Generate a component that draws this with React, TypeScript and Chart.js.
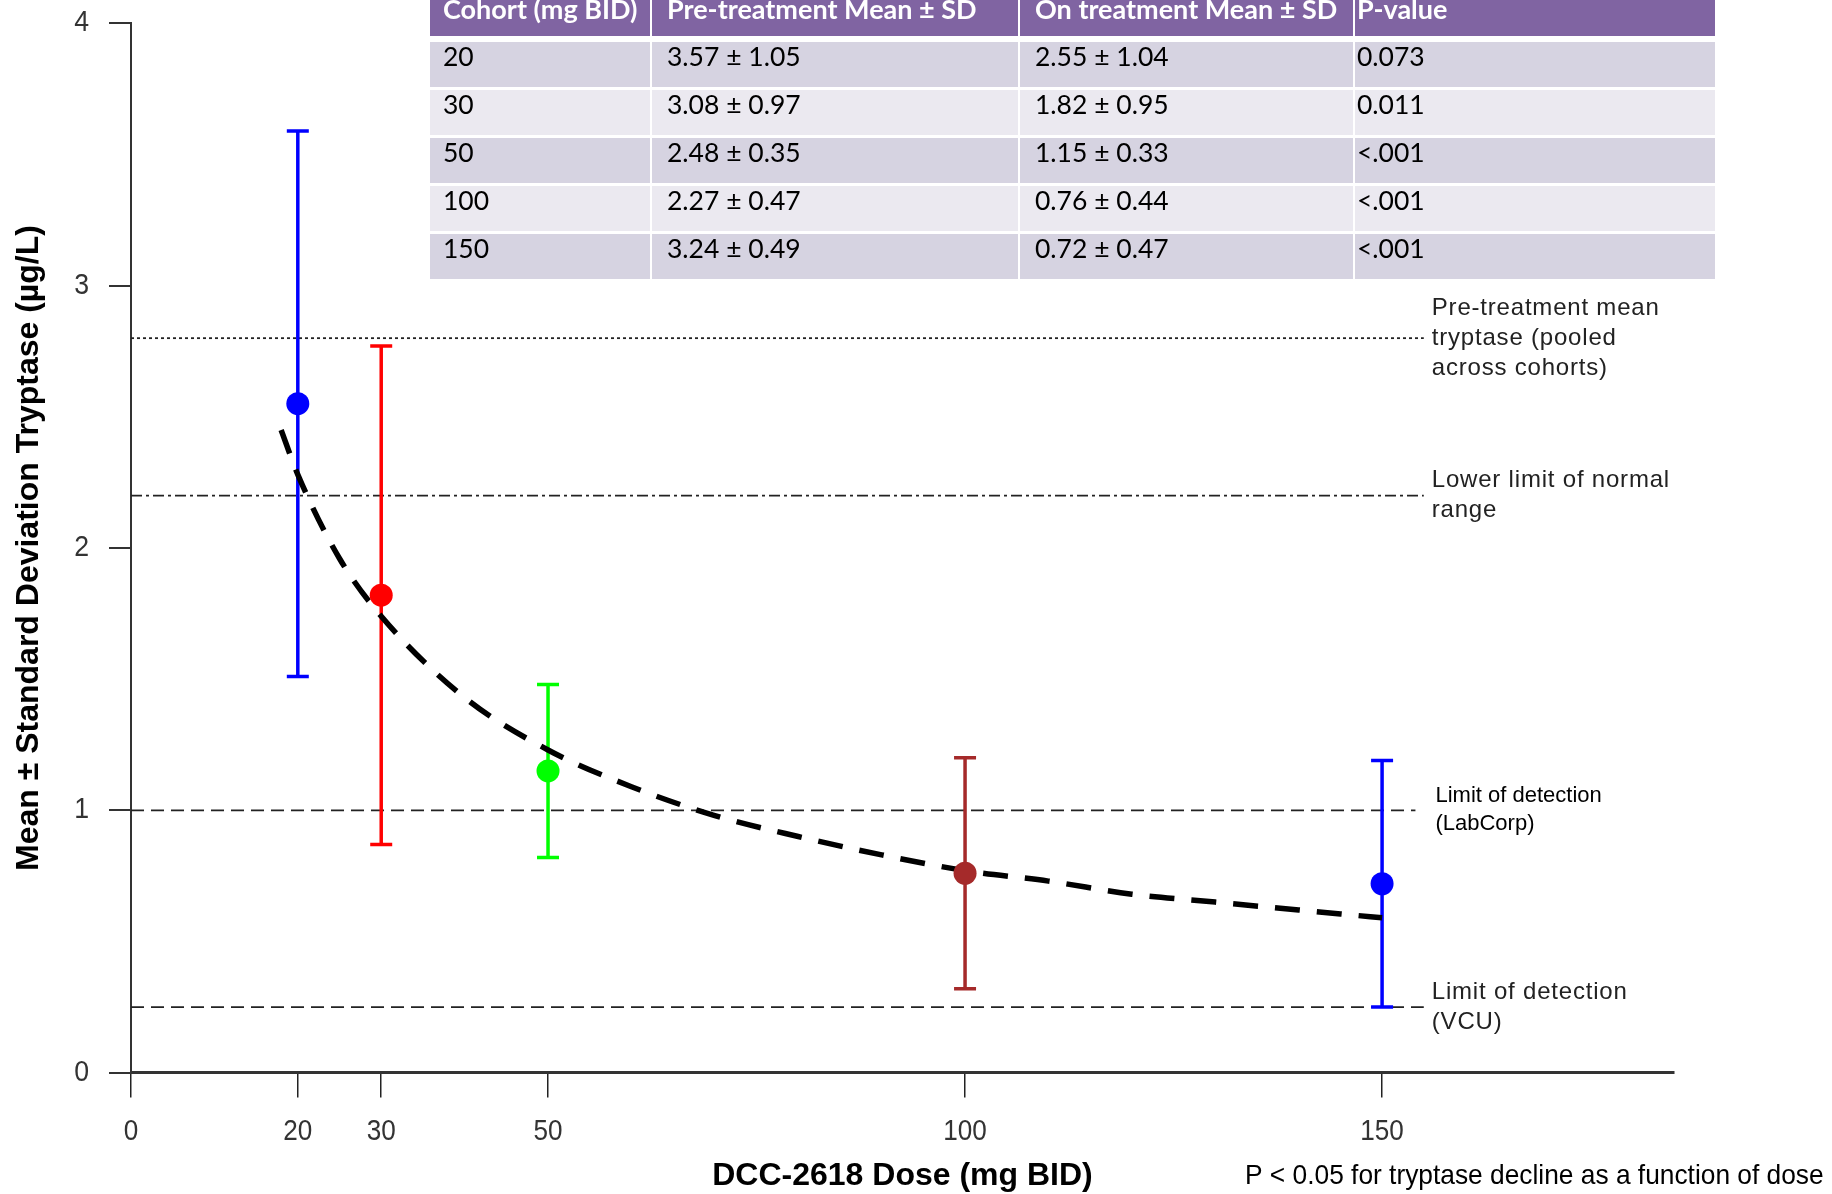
import React, { useEffect, useRef } from "react";
import { Chart, registerables } from "chart.js";

Chart.register(...registerables);

// ---------- data ----------
const cohorts = [20, 30, 50, 100, 150];
const preMean = [3.57, 3.08, 2.48, 2.27, 3.24];
const preSD = [1.05, 0.97, 0.35, 0.47, 0.49];
const onMean = [2.55, 1.82, 1.15, 0.76, 0.72];
const onSD = [1.04, 0.95, 0.33, 0.44, 0.47];
const pValues = ["0.073", "0.011", "<.001", "<.001", "<.001"];

// fitted dose-response curve
const fitDose = [18, 20, 25, 30, 40, 50, 60, 70, 80, 90, 100, 110, 120, 130, 140, 150];
const fitTryptase = [2.45, 2.28, 1.96, 1.74, 1.43, 1.23, 1.09, 0.98, 0.9, 0.83, 0.77, 0.73, 0.68, 0.65, 0.62, 0.59];

// reference lines
const refValues = [2.8, 2.2, 1.0, 0.25];
const refEnds = [155, 155, 154, 155];
const refLabels = [
  ["Pre-treatment mean", "tryptase (pooled", "across cohorts)"],
  ["Lower limit of normal", "range"],
  ["Limit of detection", "(LabCorp)"],
  ["Limit of detection", "(VCU)"],
];

const xTicks = [0, 20, 30, 50, 100, 150];
const yTicks = [0, 1, 2, 3, 4];

const tableHeaders = ["Cohort (mg BID)", "Pre-treatment Mean \u00b1 SD", "On treatment Mean \u00b1 SD", "P-value"];

const xTitle = "DCC-2618 Dose (mg BID)";
const yTitle = "Mean \u00b1 Standard Deviation Tryptase (\u00b5g/L)";
const noteText = "P < 0.05 for tryptase decline as a function of dose";

// ---------- styles ----------
const pointColors = ["#0000ff", "#ff0000", "#00ff00", "#a52a2a", "#0000ff"];
const refDashes = [[3, 3], [11, 4, 3, 4], [13, 7], [13, 7]];
const refLabelDx = [8, 8, 20, 8];
const FIT_INDEX = 1;

function drawText(
  ctx: CanvasRenderingContext2D,
  s: string,
  x: number,
  y: number,
  font: string,
  color: string,
  align: CanvasTextAlign,
  sx = 1,
  ls = "0px"
) {
  ctx.save();
  ctx.font = font;
  ctx.fillStyle = color;
  ctx.textAlign = align;
  ctx.textBaseline = "middle";
  (ctx as any).letterSpacing = ls;
  ctx.translate(x, y);
  ctx.scale(sx, 1);
  ctx.fillText(s, 0, 0);
  ctx.restore();
}

const overlayPlugin = {
  id: "overlay",
  beforeDatasetDraw(chart: any, args: any) {
    if (args.index !== FIT_INDEX) return;
    const { ctx } = chart;
    const x = chart.scales.x;
    const y = chart.scales.y;
    ctx.save();
    ctx.lineWidth = 3.5;
    ctx.lineCap = "butt";
    cohorts.forEach((d, i) => {
      const px = x.getPixelForValue(d);
      const top = y.getPixelForValue(onMean[i] + onSD[i]);
      const bot = y.getPixelForValue(onMean[i] - onSD[i]);
      ctx.strokeStyle = pointColors[i];
      ctx.beginPath();
      ctx.moveTo(px, top);
      ctx.lineTo(px, bot);
      ctx.moveTo(px - 11, top);
      ctx.lineTo(px + 11, top);
      ctx.moveTo(px - 11, bot);
      ctx.lineTo(px + 11, bot);
      ctx.stroke();
    });
    ctx.restore();
  },
  afterDraw(chart: any) {
    const { ctx } = chart;
    const x = chart.scales.x;
    const y = chart.scales.y;
    const area = chart.chartArea;
    // y tick labels
    yTicks.forEach((v) => {
      drawText(ctx, String(v), 89, y.getPixelForValue(v), "29px 'Liberation Sans'", "#333", "right", 0.92);
    });
    // x tick labels
    xTicks.forEach((v) => {
      drawText(ctx, String(v), x.getPixelForValue(v), area.bottom + 59, "29px 'Liberation Sans'", "#333", "center", 0.9);
    });
    // axis titles
    drawText(ctx, xTitle, (area.left + area.right) / 2, area.bottom + 104, "bold 32px 'Liberation Sans'", "#000", "center");
    ctx.save();
    ctx.translate(29, (area.top + area.bottom) / 2);
    ctx.rotate(-Math.PI / 2);
    drawText(ctx, yTitle, 0, 0, "bold 32px 'Liberation Sans'", "#000", "center");
    ctx.restore();
    // reference line labels
    refLabels.forEach((lines, i) => {
      const lx = x.getPixelForValue(refEnds[i]) + refLabelDx[i];
      const yc = y.getPixelForValue(refValues[i]);
      const lh = i === 2 ? 28 : 30;
      lines.forEach((s, k) => {
        const ly = yc - ((lines.length - 1) * lh) / 2 + k * lh;
        if (i === 2) drawText(ctx, s, lx, ly, "22px 'Liberation Sans'", "#000", "left");
        else drawText(ctx, s, lx, ly, "24px 'Liberation Sans'", "#222", "left", 1, "0.8px");
      });
    });
    // note
    drawText(ctx, noteText, 1245, area.bottom + 104, "28px 'Liberation Sans'", "#000", "left", 0.94);
  },
};

function ChartCanvas() {
  const ref = useRef<HTMLCanvasElement | null>(null);
  useEffect(() => {
    if (!ref.current) return;
    const refSets = refValues.map((v, i) => ({
      type: "line" as const,
      label: "ref" + i,
      data: [
        { x: 0, y: v },
        { x: refEnds[i], y: v },
      ],
      borderColor: "#222",
      borderWidth: 1.8,
      borderDash: refDashes[i],
      pointRadius: 0,
      fill: false,
      order: 2,
    }));
    const chart = new Chart(ref.current, {
      type: "scatter",
      data: {
        datasets: [
          {
            type: "scatter",
            label: "On treatment",
            data: cohorts.map((d, i) => ({ x: d, y: onMean[i] })),
            pointRadius: 11.5,
            pointBackgroundColor: pointColors,
            pointBorderWidth: 0,
            borderWidth: 0,
            order: 0,
            clip: false,
          },
          {
            type: "line",
            label: "fit",
            data: fitDose.map((d, i) => ({ x: d, y: fitTryptase[i] })),
            borderColor: "#000",
            borderWidth: 5.5,
            borderDash: [25, 17],
            cubicInterpolationMode: "monotone",
            pointRadius: 0,
            fill: false,
            order: 1,
          },
          ...refSets,
        ] as any,
      },
      options: {
        animation: false,
        responsive: false,
        layout: { padding: { left: 0, right: 158, top: 23.4, bottom: 0 } },
        plugins: { legend: { display: false }, tooltip: { enabled: false } },
        scales: {
          x: {
            type: "linear",
            min: 0,
            max: 185,
            position: "bottom",
            afterBuildTicks: (s: any) => {
              s.ticks = xTicks.map((v) => ({ value: v }));
            },
            afterFit: (s: any) => {
              s.height = 1194 - 1072.6;
            },
            grid: { drawOnChartArea: false, drawTicks: true, tickLength: 25, color: "#222", lineWidth: 1.5 },
            border: { display: true, color: "#333", width: 3 },
            ticks: { display: false },
          },
          y: {
            type: "linear",
            min: 0,
            max: 4,
            afterBuildTicks: (s: any) => {
              s.ticks = yTicks.map((v) => ({ value: v }));
            },
            afterFit: (s: any) => {
              s.width = 131;
            },
            grid: { drawOnChartArea: false, drawTicks: true, tickLength: 22, color: "#333", lineWidth: 2 },
            border: { display: true, color: "#333", width: 2 },
            ticks: { display: false },
          },
        },
      } as any,
      plugins: [overlayPlugin],
    });
    return () => chart.destroy();
  }, []);
  return <canvas ref={ref} width={1832} height={1194} style={{ display: "block", position: "absolute", left: 0, top: 0 }} />;
}

function Table() {
  const colX = [430, 651, 1019, 1354, 1716];
  const textX = [443, 667, 1035, 1357];
  const rowTop = (i: number) => 41.5 + 48 * i;
  const rows = cohorts.map((c, i) => [
    String(c),
    `${preMean[i].toFixed(2)} \u00b1 ${preSD[i].toFixed(2)}`,
    `${onMean[i].toFixed(2)} \u00b1 ${onSD[i].toFixed(2)}`,
    pValues[i],
  ]);
  const cellLeft = (ci: number) => colX[ci] + (ci > 0 ? 1 : 0);
  const cellWidth = (ci: number) => colX[ci + 1] - 1 - cellLeft(ci);
  return (
    <>
      {tableHeaders.map((h, ci) => (
        <div
          key={"h" + ci}
          style={{ position: "absolute", left: cellLeft(ci), top: 0, width: cellWidth(ci), height: 36, background: "#8064a2" }}
        >
          <span
            style={{
              position: "absolute",
              left: textX[ci] - cellLeft(ci),
              top: -7,
              font: "bold 27px Lato",
              lineHeight: "32.4px",
              color: "#fff",
              whiteSpace: "nowrap",
            }}
          >
            {h}
          </span>
        </div>
      ))}
      {rows.map((r, ri) =>
        r.map((cell, ci) => (
          <div
            key={ri + "-" + ci}
            style={{
              position: "absolute",
              left: cellLeft(ci),
              top: rowTop(ri),
              width: cellWidth(ci),
              height: 45,
              background: ri % 2 === 0 ? "#d6d3e1" : "#ebe9f0",
            }}
          >
            <span
              style={{
                position: "absolute",
                left: textX[ci] - cellLeft(ci),
                top: -0.5,
                font: "26.5px Lato",
                lineHeight: "31.8px",
                color: "#000",
                whiteSpace: "nowrap",
              }}
            >
              {cell}
            </span>
          </div>
        ))
      )}
    </>
  );
}

export default function App() {
  return (
    <div style={{ position: "absolute", left: 0, top: 0, width: 1832, height: 1194, background: "#fff", overflow: "hidden" }}>
      <ChartCanvas />
      <Table />
    </div>
  );
}
